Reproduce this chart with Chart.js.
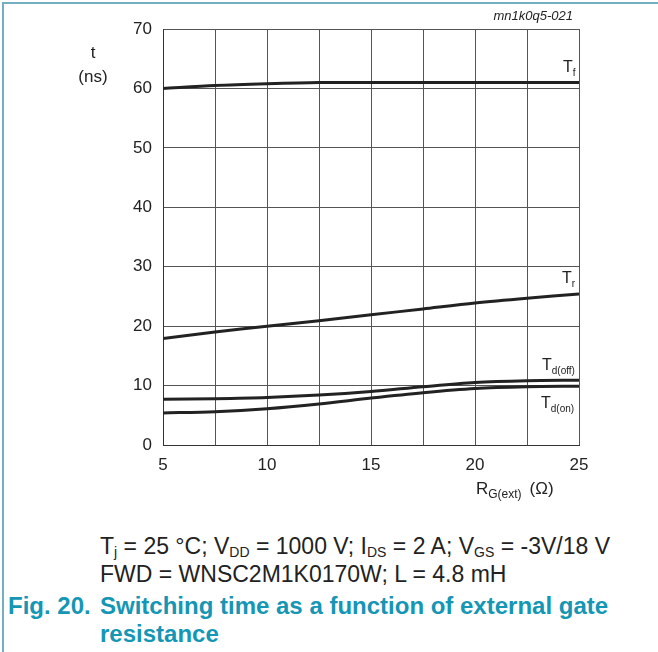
<!DOCTYPE html>
<html>
<head>
<meta charset="utf-8">
<script src="https://cdn.jsdelivr.net/npm/chart.js@4.4.1/dist/chart.umd.min.js"></script>
<style>
  body { margin: 0; background: #fff; font-family: "Liberation Sans", Arial, sans-serif; }
  #page { position: relative; width: 658px; height: 652px; overflow: hidden; }
  #frameTop { position: absolute; left: 2px; top: 2px; width: 656px; height: 2px; background: #74afc0; }
  #frameLeft { position: absolute; left: 2px; top: 2px; width: 2px; height: 650px; background: #74afc0; }
  #chart { position: absolute; left: 0; top: 0; }
  .cond { position: absolute; left: 100px; font-size: 23px; line-height: 26px; color: #222; white-space: nowrap; }
  .cond sub { font-size: 14px; vertical-align: -3px; line-height: 0; }
  .cap { position: absolute; font-size: 24px; line-height: 26px; font-weight: bold; color: #1496b4; white-space: nowrap; }
</style>
</head>
<body>
<div id="page">
  <canvas id="chart" width="658" height="520"></canvas>
  <div id="frameTop"></div>
  <div id="frameLeft"></div>
  <div class="cond" style="top:533px">T<sub>j</sub> = 25 °C; V<sub>DD</sub> = 1000 V; I<sub>DS</sub> = 2 A; V<sub>GS</sub> = -3V/18 V</div>
  <div class="cond" style="top:561px">FWD = WNSC2M1K0170W; L = 4.8 mH</div>
  <div class="cap" style="left:8px; top:593px">Fig. 20.</div>
  <div class="cap" style="left:100px; top:593px">Switching time as a function of external gate</div>
  <div class="cap" style="left:100px; top:621px">resistance</div>
</div>
<script>
'use strict';

// gate resistance (ohm)
const rgValues = [5, 7.5, 10, 12.5, 15, 17.5, 20, 22.5, 25];
// switching times (ns)
const tfValues = [60.0, 60.5, 60.8, 61.0, 61.0, 61.0, 61.0, 61.0, 61.0];
const trValues = [17.9, 19.0, 20.0, 20.9, 21.9, 22.9, 23.9, 24.7, 25.4];
const tdOffValues = [7.7, 7.8, 8.0, 8.4, 9.0, 9.8, 10.5, 10.8, 10.9];
const tdOnValues = [5.4, 5.6, 6.1, 6.9, 7.9, 8.8, 9.5, 9.8, 9.9];
const yTicks = [0, 10, 20, 30, 40, 50, 60, 70];
const xTicks = [5, 10, 15, 20, 25];

function toPoints(ys) {
  return rgValues.map(function (x, i) { return { x: x, y: ys[i] }; });
}

function curve(values) {
  return {
    data: toPoints(values),
    borderColor: '#222',
    borderWidth: 3,
    pointRadius: 0,
    tension: 0.3,
    fill: false
  };
}

// text with a subscript, drawn left to right from (x, y)
function subText(ctx, main, sub, x, y, size, subSize) {
  ctx.font = size + 'px "Liberation Sans", Arial, sans-serif';
  ctx.textBaseline = 'alphabetic';
  ctx.textAlign = 'left';
  ctx.fillText(main, x, y);
  let w = ctx.measureText(main).width;
  ctx.font = subSize + 'px "Liberation Sans", Arial, sans-serif';
  ctx.fillText(sub, x + w, y + 4);
  return x + w + ctx.measureText(sub).width;
}

const labelsPlugin = {
  id: 'labels',
  afterDraw: function (chart) {
    const ctx = chart.ctx;
    const a = chart.chartArea;
    ctx.save();
    ctx.fillStyle = '#222';

    // axis titles
    ctx.font = '17px "Liberation Sans", Arial, sans-serif';
    ctx.textAlign = 'center';
    ctx.textBaseline = 'middle';
    ctx.fillText('t', 93, 53);
    ctx.fillText('(ns)', 93, 77);

    let end = subText(ctx, 'R', 'G(ext)', 476, 494, 17, 12);
    ctx.font = '17px "Liberation Sans", Arial, sans-serif';
    ctx.fillText('(\u03A9)', end + 8, 494);

    // figure id
    ctx.font = 'italic 13px "Liberation Sans", Arial, sans-serif';
    ctx.textAlign = 'right';
    ctx.fillText('mn1k0q5-021', a.right - 6, 20);

    // curve names
    subText(ctx, 'T', 'f', a.right - 16, 72, 16, 10);
    subText(ctx, 'T', 'r', a.right - 17, 283, 16, 10);
    subText(ctx, 'T', 'd(off)', a.right - 37, 370, 16, 10);
    subText(ctx, 'T', 'd(on)', a.right - 38, 408, 16, 10);
    ctx.restore();
  }
};

new Chart(document.getElementById('chart'), {
  type: 'line',
  data: {
    datasets: [curve(tfValues), curve(trValues), curve(tdOffValues), curve(tdOnValues)]
  },
  plugins: [labelsPlugin],
  options: {
    responsive: false,
    animation: false,
    layout: { padding: { left: 0, top: 29, right: 79, bottom: 0 } },
    plugins: { legend: { display: false }, tooltip: { enabled: false } },
    scales: {
      x: {
        type: 'linear',
        min: 5,
        max: 25,
        afterFit: function (s) { s.height = 75; },
        afterBuildTicks: function (s) {
          s.ticks = rgValues.map(function (v) { return { value: v }; });
        },
        grid: { color: '#555', lineWidth: 1, drawTicks: false },
        border: { color: '#333', width: 1 },
        ticks: {
          padding: 10,
          color: '#222',
          font: { size: 17, family: '"Liberation Sans", Arial, sans-serif' },
          callback: function (v) { return xTicks.includes(v) ? String(v) : ''; }
        }
      },
      y: {
        min: 0,
        max: 70,
        afterFit: function (s) { s.width = 163; },
        afterBuildTicks: function (s) {
          s.ticks = yTicks.map(function (v) { return { value: v }; });
        },
        grid: { color: '#555', lineWidth: 1, drawTicks: false },
        border: { color: '#333', width: 1 },
        ticks: {
          padding: 11,
          color: '#222',
          font: { size: 17, family: '"Liberation Sans", Arial, sans-serif' }
        }
      }
    }
  }
});
</script>
</body>
</html>
